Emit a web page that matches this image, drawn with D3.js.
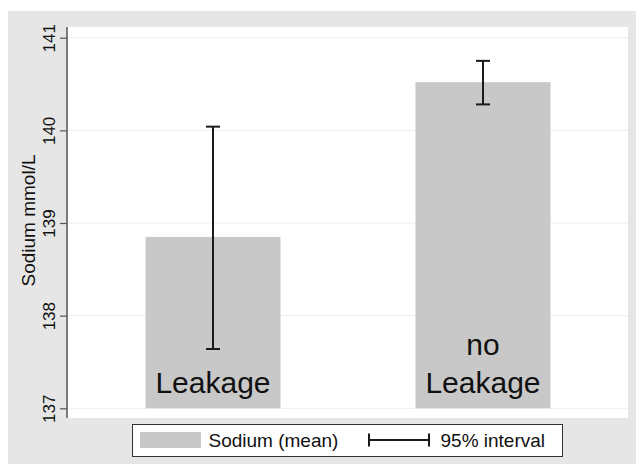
<!DOCTYPE html>
<html><head><meta charset="utf-8">
<script src="https://cdn.jsdelivr.net/npm/d3@7"></script>
<style>html,body{margin:0;padding:0;background:#fff;} svg{display:block;font-family:Arial,"Liberation Sans",sans-serif;}</style>
</head><body>
<script>
const categories = ["Leakage", "no Leakage"];
const labelLines = [["Leakage"], ["no", "Leakage"]];
const means = [138.85, 140.52];
const lower = [137.64, 140.28];
const upper = [140.04, 140.75];
const yTicks = [137, 138, 139, 140, 141];
const yTitle = "Sodium mmol/L";
const legendBar = "Sodium (mean)";
const legendCI = "95% interval";

const W = 636, H = 465;
const plot = {left: 67, right: 628, top: 27, bottom: 418};

const svg = d3.select("body").append("svg").attr("width", W).attr("height", H);
svg.append("rect").attr("x", 0).attr("y", 0).attr("width", W).attr("height", H).attr("fill", "#fff");
svg.append("rect").attr("x", 8).attr("y", 11).attr("width", W - 8).attr("height", 453).attr("fill", "#e6e6e6");
svg.append("rect").attr("x", plot.left).attr("y", plot.top).attr("width", plot.right - plot.left).attr("height", plot.bottom - plot.top).attr("fill", "#fff");

const y = d3.scaleLinear().domain([137, 141]).range([408.3, 37.7]);
const x = d3.scaleBand().domain(categories).range([78, 618]).paddingInner(0.5).paddingOuter(0.25);

// gridlines
svg.append("g").selectAll("line").data(yTicks).join("line")
  .attr("x1", plot.left).attr("x2", plot.right)
  .attr("y1", d => y(d)).attr("y2", d => y(d))
  .attr("stroke", "#eeeeee").attr("stroke-width", 1);

// bars
svg.append("g").selectAll("rect").data(categories).join("rect")
  .attr("x", d => x(d)).attr("width", x.bandwidth())
  .attr("y", (d, i) => y(means[i])).attr("height", (d, i) => y(137) - y(means[i]))
  .attr("fill", "#c8c8c8");

// error bars
const eb = svg.append("g").attr("stroke", "#1a1a1a").attr("stroke-width", 2);
categories.forEach((c, i) => {
  const cx = x(c) + x.bandwidth() / 2;
  eb.append("line").attr("x1", cx).attr("x2", cx).attr("y1", y(lower[i])).attr("y2", y(upper[i]));
  eb.append("line").attr("x1", cx - 7).attr("x2", cx + 7).attr("y1", y(lower[i])).attr("y2", y(lower[i]));
  eb.append("line").attr("x1", cx - 7).attr("x2", cx + 7).attr("y1", y(upper[i])).attr("y2", y(upper[i]));
});

// bar labels
categories.forEach((c, i) => {
  const cx = x(c) + x.bandwidth() / 2;
  const lines = labelLines[i];
  lines.forEach((t, j) => {
    svg.append("text").attr("x", cx).attr("y", 392.5 - (lines.length - 1 - j) * 37.5)
      .attr("text-anchor", "middle").attr("font-size", 30).attr("fill", "#111").text(t);
  });
});

// y axis
const axis = d3.axisLeft(y).tickValues(yTicks).tickSize(7).tickFormat(d3.format("d"));
const ag = svg.append("g").attr("transform", `translate(${plot.left},0)`).call(axis);
ag.select(".domain").attr("d", `M0,${plot.top}V${plot.bottom}`).attr("stroke", "#555").attr("stroke-width", 1.5);
ag.selectAll(".tick line").attr("stroke", "#555").attr("stroke-width", 1.2);
ag.selectAll(".tick text").attr("font-size", 17).attr("fill", "#111").attr("font-family", "Arial, 'Liberation Sans', sans-serif")
  .attr("transform", "translate(-12.5,0) rotate(-90)")
  .attr("x", 0).attr("dy", 0).attr("y", 0).attr("text-anchor", "middle");

svg.append("text").attr("transform", `translate(35,220.5) rotate(-90)`).attr("text-anchor", "middle")
  .attr("font-size", 19).attr("fill", "#111").text(yTitle);

// legend
const lg = svg.append("g");
lg.append("rect").attr("x", 132.5).attr("y", 424.5).attr("width", 430).attr("height", 32).attr("fill", "#fff").attr("stroke", "#333").attr("stroke-width", 1);
lg.append("rect").attr("x", 140).attr("y", 432).attr("width", 61).attr("height", 16).attr("fill", "#c8c8c8");
lg.append("text").attr("x", 208.5).attr("y", 447).attr("font-size", 19).attr("fill", "#111").text(legendBar);
const lgs = lg.append("g").attr("stroke", "#1a1a1a").attr("stroke-width", 2);
lgs.append("line").attr("x1", 368).attr("x2", 430).attr("y1", 440).attr("y2", 440);
lgs.append("line").attr("x1", 369).attr("x2", 369).attr("y1", 433.5).attr("y2", 446.5);
lgs.append("line").attr("x1", 429).attr("x2", 429).attr("y1", 433.5).attr("y2", 446.5);
lg.append("text").attr("x", 440.5).attr("y", 447).attr("font-size", 19).attr("fill", "#111").text(legendCI);
</script>
</body></html>
